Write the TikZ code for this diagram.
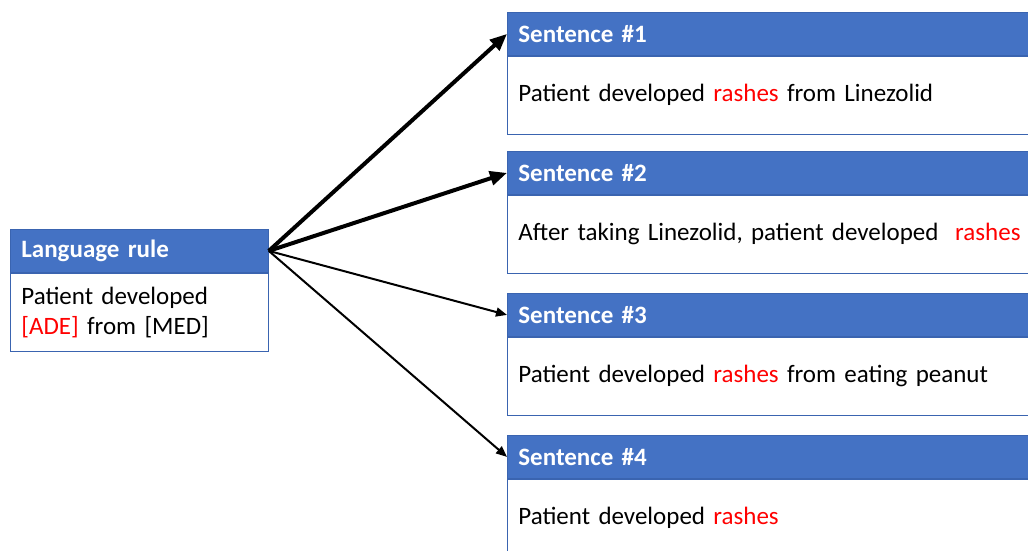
\documentclass[tikz,border=0pt]{standalone}
\usepackage{fontspec}
\setmainfont{Carlito}
\usetikzlibrary{arrows.meta,positioning}
\definecolor{hdrblue}{HTML}{4472C4}
\definecolor{edgeblue}{HTML}{3A64B0}
\definecolor{hlred}{HTML}{FF0000}
\tikzset{
  hdr/.style={rectangle, fill=hdrblue, draw=edgeblue, line width=0.8pt,
    text=white, font=\fontsize{25}{30}\selectfont\bfseries,
    inner xsep=11pt, inner ysep=0pt, align=left, anchor=north west},
  bodybox/.style={rectangle, fill=white, draw=edgeblue, line width=0.8pt,
    text=black, font=\fontsize{25}{30}\selectfont,
    inner xsep=11pt, inner ysep=0pt, align=left, anchor=north west},
  sent/.style={text width=518pt},
  heavy/.style={line width=4pt, -{Triangle[length=17pt,width=14pt]}},
  light/.style={line width=2pt, -{Triangle[length=11pt,width=9pt]}},
}
\newcommand{\hl}[1]{\textcolor{hlred}{#1}}
\begin{document}
\begin{tikzpicture}[x=1pt,y=-1pt]
\useasboundingbox (0,0) rectangle (1028,550);
\clip (0,0) rectangle (1028,550);

% rule box on the left
\node[hdr, text width=236pt, minimum height=43pt] (rh) at (10,229) {Language rule};
\node[bodybox, text width=236pt, minimum height=78pt] (rb) at (rh.south west)
  {Patient developed\\\hl{[ADE]} from [MED]};

% sentence boxes on the right
\node[hdr, sent, minimum height=43pt] (h1) at (507,12) {Sentence \#1};
\node[bodybox, sent, minimum height=78pt] (b1) at (h1.south west)
  {Patient developed \hl{rashes} from Linezolid};

\node[hdr, sent, minimum height=43pt] (h2) at (507,151) {Sentence \#2};
\node[bodybox, sent, minimum height=78pt] (b2) at (h2.south west)
  {After taking Linezolid, patient developed \ \hl{rashes}};

\node[hdr, sent, minimum height=43pt] (h3) at (507,293) {Sentence \#3};
\node[bodybox, sent, minimum height=78pt] (b3) at (h3.south west)
  {Patient developed \hl{rashes} from eating peanut};

\node[hdr, sent, minimum height=43pt] (h4) at (507,435) {Sentence \#4};
\node[bodybox, sent, minimum height=78pt] (b4) at (h4.south west)
  {Patient developed \hl{rashes}};

% connectors
\draw[heavy] (rh.east) -- (h1.west);
\draw[heavy] (rh.east) -- (h2.west);
\draw[light] (rh.east) -- (h3.west);
\draw[light] (rh.east) -- (h4.west);
\end{tikzpicture}
\end{document}
